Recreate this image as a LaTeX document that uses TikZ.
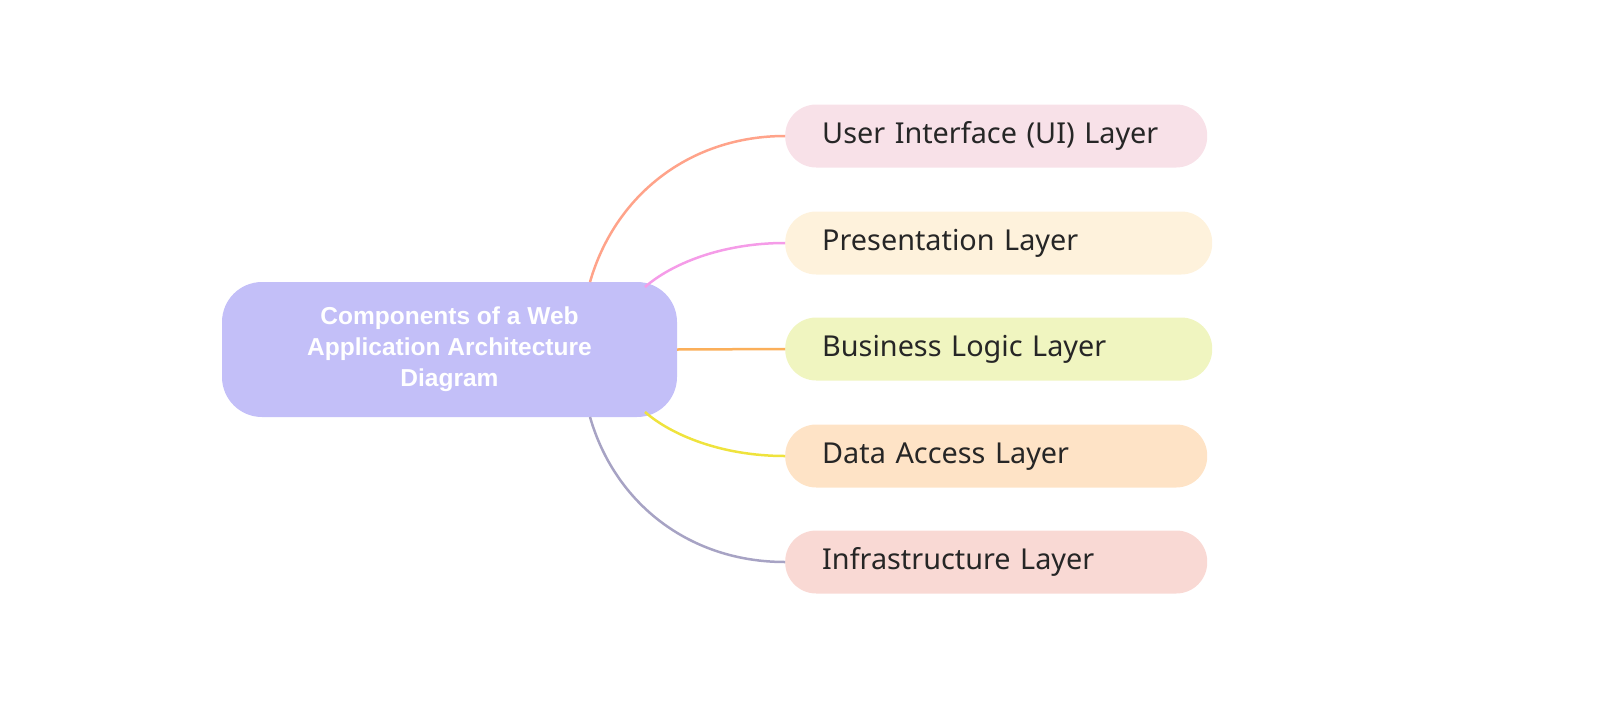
\documentclass[tikz,border=0pt]{standalone}
\usepackage{fontspec}
\setmainfont{Noto Sans}
\newfontfamily\titlefont{Liberation Sans}
\definecolor{cfill}{HTML}{C3BFF8}
\definecolor{f1}{HTML}{F8E1E8}\definecolor{e1}{HTML}{FFA38A}
\definecolor{f2}{HTML}{FEF2DC}\definecolor{e2}{HTML}{F59CE8}
\definecolor{f3}{HTML}{F0F5C0}\definecolor{e3}{HTML}{FBAF5A}
\definecolor{f4}{HTML}{FEE3C6}\definecolor{e4}{HTML}{EFE33D}
\definecolor{f5}{HTML}{F9D9D4}\definecolor{e5}{HTML}{A7A3C4}
\begin{document}
\begin{tikzpicture}[x=1pt,y=-1pt,
  leaf/.style={rounded corners=31pt,minimum height=63pt,anchor=west,text=black!85,font=\fontsize{28.8}{32}\selectfont,inner xsep=37pt,inner ysep=0pt,align=left,text height=20pt,text depth=6pt},
  conn/.style={line width=2.5pt}]
\node[fill=cfill,rounded corners=40pt,minimum width=455pt,minimum height=135pt,inner sep=0pt,text=white,align=center,font=\titlefont\bfseries\fontsize{24.5}{31}\selectfont] (c) at (449.5,349.5) {Components of a Web\\Application Architecture\\Diagram};
\node[leaf,fill=f1,text width=348pt] (n1) at (785,136) {User Interface (UI) Layer};
\node[leaf,fill=f2,text width=353pt] (n2) at (785,243) {Presentation Layer};
\node[leaf,fill=f3,text width=353pt] (n3) at (785,349) {Business Logic Layer};
\node[leaf,fill=f4,text width=348pt] (n4) at (785,456) {Data Access Layer};
\node[leaf,fill=f5,text width=348pt] (n5) at (785,562) {Infrastructure Layer};
\coordinate (s1) at (590,282);
\coordinate (s2) at (645,287);
\coordinate (s4) at (645,412);
\coordinate (s5) at (590,417);
\draw[conn,e1] (s1) .. controls (615,195) and (690,136) .. (n1.west);
\draw[conn,e2] (s2) .. controls (670,265) and (720,243) .. (n2.west);
\draw[conn,e3] (c.east) -- (n3.west);
\draw[conn,e4] (s4) .. controls (670,434) and (720,456) .. (n4.west);
\draw[conn,e5] (s5) .. controls (615,504) and (690,562) .. (n5.west);
\pgfresetboundingbox
\useasboundingbox (0,0) rectangle (1606,715);
\end{tikzpicture}
\end{document}
